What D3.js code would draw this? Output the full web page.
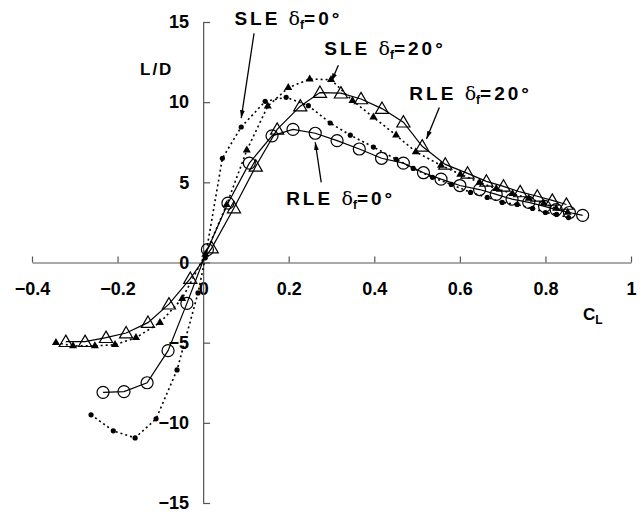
<!DOCTYPE html>
<html>
<head>
<meta charset="utf-8">
<script src="https://cdn.jsdelivr.net/npm/d3@7"></script>
<style>
  body { margin: 0; background: #fff; }
  text { font-family: "Liberation Sans", Arial, sans-serif; font-weight: bold; fill: #000; }
</style>
</head>
<body>
<div id="chart"></div>
<script>
// lift coefficient vs lift/drag ratio
const rle0 = [
  [-0.234, -8.1], [-0.185, -8.05], [-0.131, -7.5], [-0.082, -5.5], [-0.038, -2.55],
  [0.01, 0.8], [0.058, 3.7], [0.108, 6.2], [0.161, 7.9], [0.21, 8.3], [0.262, 8.06],
  [0.313, 7.6], [0.365, 7.08], [0.417, 6.5], [0.468, 6.2], [0.515, 5.6], [0.556, 5.2],
  [0.6, 4.8], [0.646, 4.55], [0.685, 4.25], [0.722, 3.95], [0.761, 3.75], [0.798, 3.5],
  [0.825, 3.3], [0.856, 3.12], [0.887, 2.94]
];
const sle0 = [
  [-0.262, -9.5], [-0.21, -10.5], [-0.159, -10.94], [-0.11, -9.75], [-0.061, -6.7],
  [-0.012, -1.9], [0.005, 0.3], [0.045, 6.5], [0.089, 8.45], [0.145, 10.05], [0.194, 10.3],
  [0.246, 9.78], [0.297, 8.7], [0.344, 7.94], [0.398, 7.2], [0.451, 6.44], [0.491, 5.87],
  [0.536, 5.31], [0.58, 4.87], [0.625, 4.37], [0.664, 4.06], [0.699, 3.75], [0.734, 3.62],
  [0.77, 3.37], [0.8, 3.12], [0.826, 3.0], [0.854, 2.8]
];
const sle20 = [
  [-0.344, -5.0], [-0.304, -5.2], [-0.253, -5.2], [-0.206, -5.13], [-0.157, -4.69],
  [-0.101, -3.75], [-0.049, -2.25], [0.005, 0.5], [0.055, 3.6], [0.102, 7.0], [0.151, 9.75],
  [0.199, 10.9], [0.249, 11.44], [0.299, 11.4], [0.349, 10.1], [0.398, 9.06], [0.451, 7.94],
  [0.497, 6.9], [0.556, 6.06], [0.601, 5.5], [0.646, 5.0], [0.685, 4.6], [0.723, 4.3],
  [0.761, 4.0], [0.796, 3.69], [0.825, 3.37], [0.852, 3.12]
];
const rle20 = [
  [-0.321, -4.94], [-0.276, -4.94], [-0.227, -4.69], [-0.18, -4.4], [-0.129, -3.75],
  [-0.08, -2.6], [-0.03, -1.0], [0.02, 0.9], [0.072, 3.4], [0.123, 6.0], [0.173, 8.3],
  [0.227, 9.75], [0.273, 10.6], [0.322, 10.56], [0.369, 10.2], [0.418, 9.6], [0.468, 8.75],
  [0.512, 7.25], [0.566, 6.12], [0.618, 5.56], [0.662, 5.06], [0.702, 4.75], [0.741, 4.4],
  [0.781, 4.13], [0.816, 3.87], [0.849, 3.62]
];
const xTicks = [-0.4, -0.2, 0, 0.2, 0.4, 0.6, 0.8, 1];
const yTicks = [-15, -10, -5, 0, 5, 10, 15];
const labels = [
  {sub: 'SLE', deg: '0', at: [0.073, 14.84], from: [0.119, 14.3], to: [0.089, 9.0]},
  {sub: 'SLE', deg: '20', at: [0.283, 12.97], from: [0.316, 12.3], to: [0.3, 11.3]},
  {sub: 'RLE', deg: '20', at: [0.482, 10.16], from: [0.552, 9.66], to: [0.522, 7.7]},
  {sub: 'RLE', deg: '0', at: [0.194, 3.6], from: [0.276, 5.0], to: [0.262, 7.5]}
];

const W = 644, H = 518;
const svg = d3.select('#chart').append('svg')
  .attr('width', W).attr('height', H);

const x = d3.scaleLinear().domain([-0.4, 1]).range([32, 631]);
const y = d3.scaleLinear().domain([-15, 15]).range([503, 22]);

const fmt = d => d === 0 ? '0' : (d < 0 ? '\u2212' : '') + Math.abs(d);

// axes cross at origin
const xAxis = svg.append('g')
  .attr('transform', `translate(0,${y(0)})`)
  .call(d3.axisBottom(x).tickValues(xTicks).tickFormat(fmt)
    .tickSizeInner(-6).tickSizeOuter(0).tickPadding(20));
const yAxis = svg.append('g')
  .attr('transform', `translate(${x(0)},0)`)
  .call(d3.axisLeft(y).tickValues(yTicks).tickFormat(fmt)
    .tickSizeInner(-7).tickSizeOuter(0).tickPadding(14));

[xAxis, yAxis].forEach(g => {
  g.selectAll('path, line').attr('stroke', '#555').attr('stroke-width', 1.2);
  g.selectAll('text').style('font-size', '18px')
    .style('font-family', '"Liberation Sans", Arial, sans-serif')
    .style('font-weight', 'bold').attr('fill', '#000');
});

const line = d3.line().x(d => x(d[0])).y(d => y(d[1]));

// lines
svg.append('path').datum(rle0).attr('d', line)
  .attr('fill', 'none').attr('stroke', '#000').attr('stroke-width', 1.2);
svg.append('path').datum(rle20).attr('d', line)
  .attr('fill', 'none').attr('stroke', '#000').attr('stroke-width', 1.2);
svg.append('path').datum(sle0).attr('d', line)
  .attr('fill', 'none').attr('stroke', '#000').attr('stroke-width', 1.6)
  .attr('stroke-dasharray', '2,3');
svg.append('path').datum(sle20).attr('d', line)
  .attr('fill', 'none').attr('stroke', '#000').attr('stroke-width', 1.6)
  .attr('stroke-dasharray', '2,3');

// markers
svg.append('g').selectAll('circle').data(sle0).join('circle')
  .attr('cx', d => x(d[0])).attr('cy', d => y(d[1])).attr('r', 2.6).attr('fill', '#000');
svg.append('g').selectAll('path').data(sle20).join('path')
  .attr('d', d3.symbol(d3.symbolTriangle, 28))
  .attr('transform', d => `translate(${x(d[0])},${y(d[1])})`).attr('fill', '#000');
svg.append('g').selectAll('circle').data(rle0).join('circle')
  .attr('cx', d => x(d[0])).attr('cy', d => y(d[1])).attr('r', 6)
  .attr('fill', '#fff').attr('fill-opacity', 0).attr('stroke', '#000').attr('stroke-width', 1.2);
svg.append('g').selectAll('path').data(rle20).join('path')
  .attr('d', d3.symbol(d3.symbolTriangle, 75))
  .attr('transform', d => `translate(${x(d[0])},${y(d[1]) + 1})`)
  .attr('fill', '#fff').attr('fill-opacity', 0).attr('stroke', '#000').attr('stroke-width', 1.2);

// axis titles
svg.append('text').attr('x', 140).attr('y', 75)
  .style('font-size', '17px').style('letter-spacing', '2px').text('L/D');
const cl = svg.append('text').attr('x', 583).attr('y', 320).style('font-size', '17px');
cl.append('tspan').text('C');
cl.append('tspan').attr('dy', 4).style('font-size', '12px').text('L');

// annotations
svg.append('defs').append('marker')
  .attr('id', 'head').attr('viewBox', '0 0 10 10')
  .attr('refX', 10).attr('refY', 5)
  .attr('markerWidth', 8).attr('markerHeight', 8)
  .attr('markerUnits', 'userSpaceOnUse')
  .attr('orient', 'auto')
  .append('path').attr('d', 'M0,2 L10,5 L0,8 Z').attr('fill', '#000');

labels.forEach(l => {
  svg.append('line')
    .attr('x1', x(l.from[0])).attr('y1', y(l.from[1]))
    .attr('x2', x(l.to[0])).attr('y2', y(l.to[1]))
    .attr('stroke', '#000').attr('stroke-width', 1.3)
    .attr('marker-end', 'url(#head)');
  const t = svg.append('text').attr('x', x(l.at[0])).attr('y', y(l.at[1]))
    .style('font-size', '19px').style('letter-spacing', '3px');
  t.append('tspan').text(l.sub + ' ');
  t.append('tspan').style('font-family', '"DejaVu Serif", serif').style('font-weight', 'normal')
    .style('letter-spacing', '0px').text('\u03b4');
  t.append('tspan').attr('dy', 4).style('font-size', '12px').style('letter-spacing', '0px').text('f');
  t.append('tspan').attr('dy', -4).text('=' + l.deg + '\u00b0');
});
</script>
</body>
</html>
